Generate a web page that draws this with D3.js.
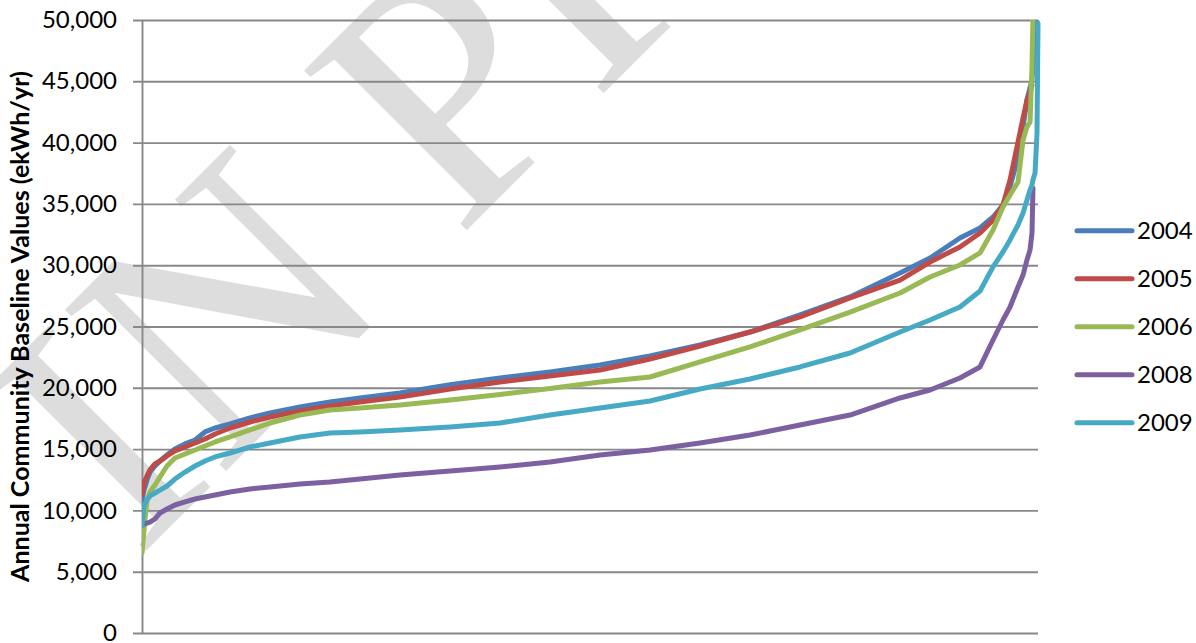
<!DOCTYPE html>
<html><head><meta charset="utf-8">
<script src="https://cdn.jsdelivr.net/npm/d3@7"></script>
<style>
html,body{margin:0;padding:0;background:#fff;}
svg{display:block;}
</style></head>
<body>
<svg id="chart" width="1196" height="643"></svg>
<script>
// ---- data ----
const ranks = [0, 0.22, 0.56, 0.89, 1.45, 2.01, 2.79, 3.68, 4.80, 5.92,
  7.03, 8.15, 9.82, 12.05, 14.29, 17.63, 20.98, 24.33, 28.79, 34.38,
  39.96, 45.54, 51.12, 56.70, 62.28, 67.86, 73.44, 79.02, 84.60, 87.95,
  91.29, 93.53, 94.98, 96.09, 96.88, 97.77, 98.33, 98.77, 99.11, 99.33,
  99.44, 99.67, 99.89, 100];
const v2004 = [10800, 11660, 12480, 13130, 13620, 14030, 14520, 15010, 15420, 15740,
  16400, 16720, 17050, 17540, 17950, 18430, 18840, 19170, 19580, 20250,
  20800, 21290, 21860, 22600, 23490, 24550, 25940, 27410, 29370, 30590,
  32220, 33040, 33930, 34910, 36380, 38830, 41270, 43480, 44460, 45110,
  46330, 48940, 50400, null];
const v2005 = [11260, 12240, 12810, 13300, 13790, 14030, 14440, 14850, 15170, 15500,
  15820, 16230, 16720, 17210, 17620, 18110, 18520, 18840, 19250, 19900,
  20470, 20960, 21450, 22350, 23410, 24550, 25780, 27330, 28790, 30260,
  31490, 32630, 33690, 34910, 36950, 40050, 42010, 43480, 44130, 44700,
  null, null, null, null];
const v2006 = [6530, 8400, 10850, 11500, 12070, 12730, 13620, 14270, 14600, 14930,
  15250, 15580, 15990, 16560, 17130, 17780, 18190, 18350, 18600, 19010,
  19450, 19950, 20470, 20880, 22110, 23330, 24720, 26180, 27730, 29040,
  30020, 31000, 32870, 34750, 35730, 36790, 40210, 41270, 41680, 46170,
  50400, null, null, null];
const v2008 = [8810, 8890, 8970, 9050, 9300, 9790, 10110, 10440, 10690, 10930,
  11090, 11260, 11500, 11750, 11910, 12150, 12320, 12560, 12890, 13210,
  13540, 13950, 14520, 14930, 15500, 16150, 16970, 17780, 19170, 19820,
  20800, 21700, 23900, 25530, 26590, 28220, 29200, 30430, 31240, 32630,
  36300, null, null, null];
const v2009 = [8810, 10440, 10850, 11180, 11420, 11660, 11990, 12560, 13130, 13620,
  14030, 14360, 14680, 15170, 15500, 15990, 16310, 16400, 16560, 16800,
  17130, 17780, 18350, 18920, 19900, 20720, 21700, 22840, 24550, 25530,
  26590, 27900, 29860, 31080, 32060, 33280, 34260, 35320, 36140, 36540,
  36950, 37520, 40790, 49760];
const seriesNames = ["2004", "2005", "2006", "2008", "2009"];
const seriesColors = ["#4A7EBB", "#BE4B48", "#98B954", "#7D60A0", "#46AAC5"];
const yTicks = [0, 5000, 10000, 15000, 20000, 25000, 30000, 35000, 40000, 45000, 50000];
const yTitle = "Annual Community Baseline Values (ekWh/yr)";
const watermark = "IN PROGRESS";

// ---- layout ----
const FONT = "Lato, 'Open Sans', sans-serif";
const plot = {left: 142, right: 1038, top: 20, bottom: 633};
const svg = d3.select("#chart");

const x = d3.scaleLinear().domain([0, 100]).range([plot.left, plot.right]);
const y = d3.scaleLinear().domain([0, 50000]).range([plot.bottom, plot.top]);

// watermark (behind everything)
svg.append("text")
  .attr("transform", "translate(137,560) rotate(-45)")
  .attr("font-family", "'Liberation Serif', 'DejaVu Serif', serif")
  .attr("font-size", 348)
  .attr("fill", "#dddddd")
  .text(watermark);

// y axis with gridlines
const yAxis = d3.axisLeft(y)
  .tickValues(yTicks)
  .tickSizeInner(-(plot.right - plot.left))
  .tickSizeOuter(0)
  .tickPadding(25)
  .tickFormat(d3.format(","));

const gy = svg.append("g")
  .attr("transform", `translate(${plot.left},0)`)
  .call(yAxis);
gy.selectAll(".tick line")
  .attr("x1", -9)
  .attr("stroke", "#888888")
  .attr("stroke-width", 1.9);
gy.select(".domain").attr("stroke", "#888888").attr("stroke-width", 1.9);
gy.selectAll(".tick text")
  .attr("font-family", FONT)
  .attr("font-size", 24)
  .attr("fill", "#000");

// y title
const title = svg.append("text")
  .attr("transform", `translate(29,${(71 + 582) / 2}) rotate(-90)`)
  .attr("text-anchor", "middle")
  .attr("font-family", FONT)
  .attr("font-weight", "bold")
  .attr("font-size", 23)
  .attr("fill", "#000")
  .text(yTitle);
const tl = title.node().getComputedTextLength();
title.attr("font-size", 23 * 511 / tl);

// series lines
const seriesData = [v2004, v2005, v2006, v2008, v2009];
svg.append("clipPath").attr("id", "clip")
  .append("rect").attr("x", plot.left).attr("y", plot.top)
  .attr("width", plot.right - plot.left + 10).attr("height", plot.bottom - plot.top);

const line = d3.line()
  .defined(d => d[1] != null)
  .x(d => x(d[0]))
  .y(d => y(d[1]));

svg.append("g").attr("clip-path", "url(#clip)")
  .selectAll("path")
  .data(seriesData)
  .join("path")
  .attr("d", vals => line(ranks.map((r, i) => [r, vals[i]])))
  .attr("fill", "none")
  .attr("stroke", (d, i) => seriesColors[i])
  .attr("stroke-width", 5)
  .attr("stroke-linejoin", "round")
  .attr("stroke-linecap", "round");

// legend
const legend = svg.append("g");
const legY = d3.scalePoint().domain(seriesNames).range([230.7, 422.7]);
const items = legend.selectAll("g").data(seriesNames).join("g")
  .attr("transform", d => `translate(0,${legY(d)})`);
items.append("line")
  .attr("x1", 1077).attr("x2", 1132)
  .attr("stroke", (d, i) => seriesColors[i])
  .attr("stroke-width", 5)
  .attr("stroke-linecap", "round");
items.append("text")
  .attr("x", 1137).attr("y", 8.7)
  .attr("font-family", FONT)
  .attr("font-size", 24)
  .attr("fill", "#000")
  .text(d => d);
</script>
</body></html>
